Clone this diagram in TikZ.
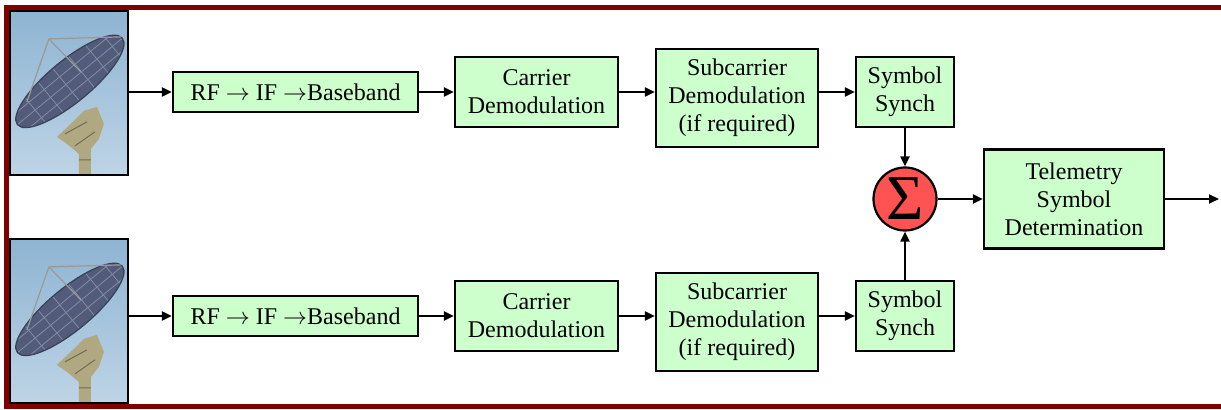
\documentclass[tikz,border=0pt]{standalone}
\usepackage{fontspec}
\setmainfont{Liberation Serif}
\usepackage{xcolor}
\usetikzlibrary{arrows.meta}

\definecolor{framered}{RGB}{128,0,0}
\definecolor{boxgreen}{RGB}{204,255,204}
\definecolor{sumred}{RGB}{255,82,82}
\definecolor{skytop}{RGB}{142,180,210}
\definecolor{skybot}{RGB}{190,212,230}
\definecolor{dishblue}{RGB}{82,92,122}
\definecolor{meshgrey}{RGB}{128,140,164}
\definecolor{mountkhaki}{RGB}{176,168,128}

\tikzset{
	blockbox/.style={draw, line width=1.1pt, fill=boxgreen, inner sep=0pt, align=center, font=\rmfamily\fontsize{12}{14}\selectfont},
	antbox/.style={draw, line width=1.1pt, top color=skytop, bottom color=skybot, minimum width=59pt, minimum height=82pt, inner sep=0pt},
	flow/.style={line width=1pt, -{Triangle[length=5pt,width=4.5pt]}}
}

% dish antenna drawn inside the photo frame #1
\newcommand{\dishpic}[1]{%
	\begin{scope}[shift={(#1.north west)}]
		%Shape: mount
		\fill [mountkhaki] (48,127) -- (65,111) -- (75,101) -- (88,97) -- (95,114) -- (90,129) -- (82,139) -- (82,164) -- (70,164) -- (70,144) -- (58,134) -- cycle ;
		\draw [mountkhaki!65!black, line width=0.5pt] (56,124) -- (78,112) (66,136) -- (86,122) (70,150) -- (82,150) ;
		%Shape: dish
		\fill [dishblue, rotate around={-39.5:(61,71.5)}] (61,71.5) ellipse (68 and 21) ;
		\begin{scope}
			\clip [rotate around={-39.5:(61,71.5)}] (61,71.5) ellipse (68 and 21) ;
			\foreach \k in {-45,-25,-5,15,35,55} {
				\draw [meshgrey, line width=0.4pt, rotate around={-39.5:(61,71.5)}] (61+\k,40) -- (61+\k,100) ;
			}
			\draw [meshgrey, line width=0.4pt, rotate around={-39.5:(61,71.5)}] (-20,71.5) -- (140,71.5) (-20,61.5) -- (140,61.5) (-20,81.5) -- (140,81.5) ;
		\end{scope}
		\draw [dishblue!70!black, line width=0.6pt, rotate around={-39.5:(61,71.5)}] (61,71.5) ellipse (68 and 21) ;
		%Shape: feed struts
		\draw [gray!80, line width=0.6pt] (40,29) -- (112,27) (40,29) -- (18,92) (40,29) -- (72,62) ;
	\end{scope}}

\begin{document}
\begin{tikzpicture}[x=0.5pt,y=0.5pt,yscale=-1,xscale=1]
	\useasboundingbox (0,0) rectangle (1221,410);
	
	%Shape: frame
	\draw [framered, line width=2.5pt] (1221,7.5) -- (6.5,7.5) -- (6.5,407) -- (1221,407) ;
	
	%Row 1
	\node [antbox] (ant1) at (69,93) {};
	\dishpic{ant1}
	\node [blockbox, minimum width=122.5pt, minimum height=20pt] (rf1) at (295.5,92) {RF $\rightarrow$ IF $\rightarrow$Baseband};
	\node [blockbox, minimum width=81.5pt, minimum height=35pt] (car1) at (536.5,92) {Carrier\\Demodulation};
	\node [blockbox, minimum width=81pt, minimum height=49pt] (sub1) at (737,98) {Subcarrier\\Demodulation\\(if required)};
	\node [blockbox, minimum width=49pt, minimum height=35pt] (sym1) at (905,92) {Symbol\\Synch};
	
	%Row 2
	\node [antbox] (ant2) at (69,321) {};
	\dishpic{ant2}
	\node [blockbox, minimum width=122.5pt, minimum height=20pt] (rf2) at (295.5,316) {RF $\rightarrow$ IF $\rightarrow$Baseband};
	\node [blockbox, minimum width=81.5pt, minimum height=35pt] (car2) at (536.5,316) {Carrier\\Demodulation};
	\node [blockbox, minimum width=81pt, minimum height=49pt] (sub2) at (737,322) {Subcarrier\\Demodulation\\(if required)};
	\node [blockbox, minimum width=49pt, minimum height=35pt] (sym2) at (905,316) {Symbol\\Synch};
	
	%Combiner and output
	\node [circle, draw, line width=1.1pt, fill=sumred, minimum size=31.5pt, inner sep=0pt, font=\rmfamily\fontsize{32}{32}\selectfont] (sum) at (905,199) {Σ};
	\node [blockbox, minimum width=90pt, minimum height=49.5pt] (tel) at (1074,199) {Telemetry\\Symbol\\Determination};
	\coordinate (out) at (1219,199);
	
	%Connectors
	\draw [flow] (ant1.east |- rf1.west) -- (rf1.west) ;
	\draw [flow] (rf1.east) -- (car1.west) ;
	\draw [flow] (car1.east) -- (car1.east -| sub1.west) ;
	\draw [flow] (sym1.west -| sub1.east) -- (sym1.west) ;
	\draw [flow] (ant2.east |- rf2.west) -- (rf2.west) ;
	\draw [flow] (rf2.east) -- (car2.west) ;
	\draw [flow] (car2.east) -- (car2.east -| sub2.west) ;
	\draw [flow] (sym2.west -| sub2.east) -- (sym2.west) ;
	\draw [flow] (sym1) -- (sum) ;
	\draw [flow] (sym2) -- (sum) ;
	\draw [flow] (sum) -- (tel) ;
	\draw [flow] (tel) -- (out) ;
	
\end{tikzpicture}
\end{document}
